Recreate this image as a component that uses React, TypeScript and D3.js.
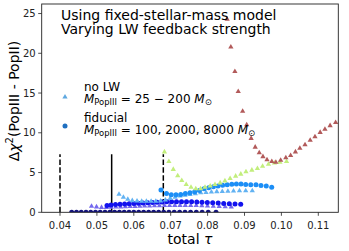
import React from "react";
import * as d3 from "d3";

// ---- data ----
const tauNavy = [0.04317, 0.04447, 0.04575, 0.04705, 0.04832, 0.04962, 0.05089, 0.0522, 0.0535, 0.0548, 0.0561, 0.0574, 0.0587, 0.06, 0.06133, 0.06266, 0.06401, 0.06537, 0.06672, 0.0681, 0.06951, 0.07095, 0.07241, 0.07388, 0.07539, 0.07694, 0.07851, 0.08016, 0.08228];
const chiNavy = [0.02, 0.02, 0.02, 0.02, 0.02, 0.02, 0.02, 0.02, 0.02, 0.02, 0.02, 0.02, 0.02, 0.02, 0.02, 0.02, 0.02, 0.02, 0.02, 0.02, 0.02, 0.02, 0.02, 0.02, 0.02, 0.02, 0.02, 0.02, 0.02];

const tauPurple = [0.04854, 0.04989, 0.05125, 0.05255, 0.05382, 0.05512, 0.05642, 0.05772, 0.05902, 0.06033, 0.06163, 0.06295, 0.06428, 0.06561, 0.06696, 0.06832, 0.0697, 0.07111, 0.07252, 0.07396, 0.07542, 0.07691, 0.07843, 0.07997, 0.08154, 0.08314, 0.08477, 0.08642];
const chiPurple = [0.75, 0.68, 0.62, 0.62, 0.64, 0.66, 0.68, 0.7, 0.72, 0.74, 0.76, 0.78, 0.8, 0.82, 0.84, 0.85, 0.86, 0.87, 0.87, 0.87, 0.86, 0.85, 0.83, 0.8, 0.77, 0.74, 0.7, 0.66];

const tauBlue = [0.05274, 0.05382, 0.05504, 0.05626, 0.05751, 0.05875, 0.06, 0.06125, 0.06249, 0.06377, 0.06504, 0.06631, 0.06762, 0.06892, 0.07024, 0.07157, 0.07293, 0.07428, 0.07566, 0.07707, 0.07848, 0.07992, 0.08138, 0.08287, 0.08436, 0.08588, 0.08743, 0.08897];
const chiBlue = [0.85, 0.92, 0.97, 1.0, 1.04, 1.08, 1.12, 1.15, 1.18, 1.21, 1.24, 1.27, 1.3, 1.32, 1.33, 1.34, 1.34, 1.33, 1.32, 1.3, 1.27, 1.24, 1.2, 1.16, 1.12, 1.08, 1.04, 1.0];

const tauLight = [0.05599, 0.05718, 0.05837, 0.05959, 0.06087, 0.06214, 0.06341, 0.06469, 0.06596, 0.06726, 0.06856, 0.06986, 0.07119, 0.07252, 0.07388, 0.07523, 0.07667, 0.07813, 0.07957, 0.08103, 0.08249, 0.08398, 0.0855, 0.08702, 0.08864, 0.09033, 0.09211];
const chiLight = [2.26, 1.88, 1.63, 1.47, 1.42, 1.4, 1.4, 1.4, 1.4, 1.42, 1.55, 1.75, 1.9, 2.05, 2.15, 2.25, 2.35, 2.45, 2.5, 2.55, 2.6, 2.62, 2.65, 2.68, 2.7, 2.7, 2.7];

const tauDodger = [0.06737, 0.06886, 0.07016, 0.07144, 0.07271, 0.07398, 0.07523, 0.0765, 0.07777, 0.07902, 0.08029, 0.08157, 0.08282, 0.08407, 0.08531, 0.08656, 0.0878, 0.08905, 0.09033, 0.0917, 0.09311, 0.09447, 0.0959, 0.09737];
const chiDodger = [2.8, 2.35, 2.2, 2.2, 2.25, 2.35, 2.45, 2.6, 2.75, 2.95, 3.1, 3.2, 3.3, 3.4, 3.47, 3.52, 3.55, 3.55, 3.5, 3.48, 3.45, 3.38, 3.3, 3.15];

const tauGreen = [0.0683, 0.0695, 0.0707, 0.0719, 0.073, 0.0742, 0.0755, 0.0768, 0.0781, 0.0793, 0.0807, 0.082, 0.0834, 0.0847, 0.0861, 0.0876, 0.089, 0.0904, 0.092, 0.0935, 0.0949, 0.0965, 0.0981, 0.0996, 0.1014];
const chiGreen = [7.6, 6.4, 5.4, 4.6, 4.0, 3.5, 3.15, 2.95, 2.95, 3.15, 3.3, 3.5, 3.7, 3.95, 4.25, 4.55, 4.8, 5.1, 5.3, 5.5, 5.8, 6.05, 6.2, 6.3, 6.4];

const tauBrown = [0.0853, 0.0863, 0.0874, 0.0883, 0.0895, 0.0906, 0.0918, 0.0929, 0.094, 0.095, 0.0961, 0.0974, 0.0985, 0.0998, 0.1012, 0.1025, 0.1038, 0.105, 0.1064, 0.1078, 0.1091, 0.1105, 0.1118, 0.1132, 0.1147];
const chiBrown = [24.3, 20.8, 17.7, 15.2, 12.7, 11.0, 9.3, 8.2, 7.5, 7.0, 6.6, 6.4, 6.3, 6.55, 6.85, 7.15, 7.6, 8.05, 8.5, 9.05, 9.5, 10.05, 10.45, 10.9, 11.3];

const vlineTau = [0.04, 0.054, 0.068];
const vlineDash = [true, false, true];
const vlineTop = 7.3;

const xTicks = [0.04, 0.05, 0.06, 0.07, 0.08, 0.09, 0.1, 0.11];
const xTickLabels = ["0.04", "0.05", "0.06", "0.07", "0.08", "0.09", "0.10", "0.11"];
const yTicks = [0, 5, 10, 15, 20, 25];

const titleLines = ["Using fixed-stellar-mass model", "Varying LW feedback strength"];

type Series = { tau: number[]; chi: number[]; shape: "tri" | "circ"; color: string };
const series: Series[] = [
  { tau: tauNavy, chi: chiNavy, shape: "circ", color: "#12127e" },
  { tau: tauPurple, chi: chiPurple, shape: "tri", color: "#7468ee" },
  { tau: tauBlue, chi: chiBlue, shape: "circ", color: "#1212ee" },
  { tau: tauLight, chi: chiLight, shape: "tri", color: "#62b2f2" },
  { tau: tauDodger, chi: chiDodger, shape: "circ", color: "#1c8ef6" },
  { tau: tauGreen, chi: chiGreen, shape: "tri", color: "#c2ee7c" },
  { tau: tauBrown, chi: chiBrown, shape: "tri", color: "#b25a5a" },
];

const W = 349, H = 251;
const L = 41.7, R = 338.3, T = 4, B = 212.3;
const FONT = "DejaVu Sans";

export default function App() {
  const x = d3.scaleLinear().domain([0.03504, 0.11542]).range([L, R]);
  const y = d3.scaleLinear().domain([0, 26.2]).range([B, T]);
  const tri = d3.symbol(d3.symbolTriangle, 12)()!;
  const circR = 2.5;

  return (
    <svg width={W} height={H} style={{ position: "absolute", left: 0, top: 0, background: "#fff" }}
      fontFamily={FONT}>
      <defs>
        <clipPath id="plotclip">
          <rect x={L} y={T} width={R - L} height={B - T} />
        </clipPath>
      </defs>
      <rect x={0} y={0} width={W} height={H} fill="#fff" />
      {/* vertical lines */}
      {vlineTau.map((t, i) => (
        <line key={"v" + i} x1={x(t)} x2={x(t)} y1={y(0)} y2={y(vlineTop)} stroke="#000"
          strokeWidth={1.5} strokeDasharray={vlineDash[i] ? "5.5,2.4" : undefined} />
      ))}
      {/* series */}
      <g clipPath="url(#plotclip)">
        {series.map((s, si) => (
          <g key={"s" + si} fill={s.color}>
            {s.tau.map((t, i) =>
              s.shape === "circ" ? (
                <circle key={i} cx={x(t)} cy={y(s.chi[i])} r={circR} />
              ) : (
                <path key={i} d={tri} transform={`translate(${x(t)},${y(s.chi[i])})`} />
              )
            )}
          </g>
        ))}
      </g>
      {/* spines */}
      <rect x={L} y={T} width={R - L} height={B - T} fill="none" stroke="#222" strokeWidth={0.9} />
      {/* x ticks */}
      {xTicks.map((t, i) => (
        <g key={"xt" + i}>
          <line x1={x(t)} x2={x(t)} y1={B} y2={B + 3.5} stroke="#222" strokeWidth={0.8} />
          <text x={x(t)} y={B + 16.5} fontSize={10} textAnchor="middle" fill="#222">{xTickLabels[i]}</text>
        </g>
      ))}
      {yTicks.map((v, i) => (
        <g key={"yt" + i}>
          <line x1={L - 3.5} x2={L} y1={y(v)} y2={y(v)} stroke="#222" strokeWidth={0.8} />
          <text x={L - 6} y={y(v) + 3.6} fontSize={10} textAnchor="end" fill="#222">{v}</text>
        </g>
      ))}
      {/* axis labels */}
      <text x={(L + R) / 2} y={244} fontSize={14} textAnchor="middle" fill="#000">
        total <tspan fontStyle="italic">τ</tspan>
      </text>
      <text transform={`translate(19,101) rotate(-90)`} fontSize={14} textAnchor="middle" fill="#000">
        Δ<tspan fontStyle="italic">χ</tspan><tspan fontSize={10} dy={-6}>2</tspan><tspan dy={6}>(PopIII - PopII)</tspan>
      </text>
      {/* title */}
      {titleLines.map((s, i) => (
        <text key={"ti" + i} x={61} y={20 + i * 13.5} fontSize={14} fill="#000">{s}</text>
      ))}
      {/* legend */}
      <path d={tri} transform="translate(65,97)" fill="#5fa8e0" />
      <circle cx={65} cy={126} r={2.5} fill="#1f6fc0" />
      <text x={84} y={90.5} fontSize={12} fill="#000">no LW</text>
      <text x={84} y={103} fontSize={12} fill="#000">
        <tspan fontStyle="italic">M</tspan><tspan fontSize={8.4} dy={2}>PopIII</tspan>
        <tspan dy={-2}>{" = 25 − 200 "}</tspan><tspan fontStyle="italic">M</tspan>
        <tspan fontSize={8.4} dy={2}>⊙</tspan>
      </text>
      <text x={84} y={121.5} fontSize={12} fill="#000">fiducial</text>
      <text x={84} y={134} fontSize={12} fill="#000">
        <tspan fontStyle="italic">M</tspan><tspan fontSize={8.4} dy={2}>PopIII</tspan>
        <tspan dy={-2}>{" = 100, 2000, 8000 "}</tspan><tspan fontStyle="italic">M</tspan>
        <tspan fontSize={8.4} dy={2}>⊙</tspan>
      </text>
    </svg>
  );
}
